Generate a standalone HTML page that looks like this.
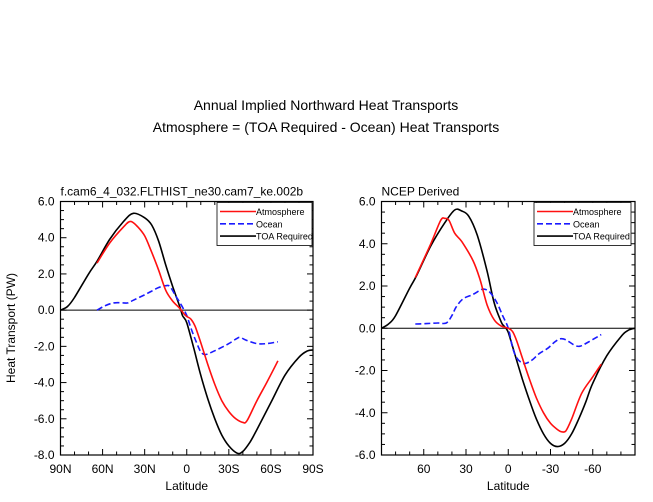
<!DOCTYPE html>
<html><head><meta charset="utf-8"><style>
body{margin:0;background:#fff;}
svg{display:block;font-family:"Liberation Sans",Arial,sans-serif;}
</style></head><body>
<svg id="c" width="653" height="502">
<text x="326" y="110" font-size="14" text-anchor="middle">Annual Implied Northward Heat Transports</text>
<text x="326" y="132" font-size="14" text-anchor="middle">Atmosphere = (TOA Required - Ocean) Heat Transports</text>
</svg>
<script>
// Left panel data (latitude, PW)
const L_toaLat=[90,85,80,70,64,55,45,38,30,25,20,15,10,5,3,0,-5,-10,-15,-20,-25,-30,-36,-40,-45,-50,-60,-70,-80,-86,-90];
const L_toaVal=[0,0.2,0.7,2.0,2.7,3.9,4.9,5.35,5.1,4.7,3.8,2.5,1.3,0.2,-0.3,-0.7,-2.1,-3.6,-4.9,-6.0,-6.9,-7.5,-7.9,-7.8,-7.3,-6.6,-5.1,-3.6,-2.6,-2.25,-2.2];
const L_atmLat=[64,55,45,40,35,30,25,20,15,10,5,2,0,-3,-6,-10,-15,-20,-25,-30,-35,-40,-43,-50,-57,-65];
const L_atmVal=[2.6,3.7,4.6,4.9,4.6,4.1,3.2,2.2,1.1,0.5,0.1,-0.2,-0.35,-0.5,-0.9,-1.8,-3.0,-4.1,-5.0,-5.6,-6.0,-6.2,-6.1,-5.0,-4.0,-2.8];
const L_ocnLat=[64,58,52,45,42,38,30,25,20,15,12,8,4,0,-3,-7,-10,-13,-17,-25,-30,-35,-38,-42,-50,-57,-65];
const L_ocnVal=[0,0.25,0.4,0.4,0.4,0.55,0.85,1.05,1.25,1.35,1.3,0.8,0.3,-0.3,-1.0,-1.8,-2.3,-2.45,-2.35,-2.05,-1.85,-1.6,-1.5,-1.65,-1.85,-1.85,-1.75];
// Right panel data
const R_toaLat=[90,85,80,70,65,55,45,38,33,28,22,15,10,5,3,0,-5,-10,-15,-20,-25,-30,-35,-40,-45,-50,-55,-60,-70,-80,-85,-90];
const R_toaVal=[0,0.2,0.6,1.9,2.5,3.9,5.0,5.6,5.55,5.3,4.4,2.7,1.2,0.3,0.1,-0.2,-1.3,-2.4,-3.4,-4.3,-5.0,-5.45,-5.6,-5.45,-5.0,-4.3,-3.5,-2.6,-1.3,-0.4,-0.1,0];
const R_atmLat=[66,55,48,45,42,38,33,25,20,15,10,5,0,-3,-6,-10,-15,-20,-25,-30,-35,-38,-41,-45,-52,-60,-66];
const R_atmVal=[2.4,4.0,5.1,5.2,5.1,4.5,4.1,3.2,2.3,1.1,0.4,0.1,0,-0.15,-0.6,-1.4,-2.4,-3.3,-4.0,-4.5,-4.8,-4.9,-4.85,-4.3,-3.1,-2.3,-1.7];
const R_ocnLat=[66,58,50,44,40,37,32,25,20,17,13,8,4,0,-3,-6,-10,-13,-17,-22,-28,-33,-37,-41,-47,-51,-57,-66];
const R_ocnVal=[0.2,0.22,0.25,0.25,0.6,1.0,1.4,1.6,1.8,1.85,1.7,1.2,0.6,0,-0.9,-1.4,-1.65,-1.65,-1.5,-1.2,-0.95,-0.65,-0.5,-0.55,-0.8,-0.85,-0.65,-0.3];
const L_xTicks=[90,60,30,0,-30,-60,-90];
const L_xLabels=["90N","60N","30N","0","30S","60S","90S"];
const L_yTicks=[6,4,2,0,-2,-4,-6,-8];
const R_xTicks=[60,30,0,-30,-60];
const R_xLabels=["60","30","0","-30","-60"];
const R_yTicks=[6,4,2,0,-2,-4,-6];

const NS="http://www.w3.org/2000/svg";
const svg=document.getElementById('c');
function mk(t,a,p){const e=document.createElementNS(NS,t);for(const k in a)e.setAttribute(k,a[k]);(p||svg).appendChild(e);return e;}
function smooth(pts){
  let d='M'+pts[0][0].toFixed(1)+' '+pts[0][1].toFixed(1);
  for(let i=0;i<pts.length-1;i++){
    const p0=pts[Math.max(0,i-1)],p1=pts[i],p2=pts[i+1],p3=pts[Math.min(pts.length-1,i+2)];
    const c1=[p1[0]+(p2[0]-p0[0])/6,p1[1]+(p2[1]-p0[1])/6];
    const c2=[p2[0]-(p3[0]-p1[0])/6,p2[1]-(p3[1]-p1[1])/6];
    d+=' C'+c1[0].toFixed(1)+' '+c1[1].toFixed(1)+' '+c2[0].toFixed(1)+' '+c2[1].toFixed(1)+' '+p2[0].toFixed(1)+' '+p2[1].toFixed(1);
  }
  return d;
}

function panel(o){
  const g=mk('g',{});
  
  
  const X=lat=>o.x0+(90-lat)/180*(o.x1-o.x0);
  const Y=v=>o.y0+(o.ymax-v)/(o.ymax-o.ymin)*(o.y1-o.y0);
  const z=mk('line',{x1:o.x0,x2:o.x1,y1:Y(0),y2:Y(0),stroke:'#000','stroke-width':1},g);
  
  function series(lat,val,color,dash,name,w){
    const d=smooth(lat.map((l,i)=>[X(l),Y(val[i])]));
    const p=mk('path',{d:d,fill:'none',stroke:color,'stroke-width':w,'stroke-linejoin':'round'},g);
    if(dash)p.setAttribute('stroke-dasharray',dash);
    
    
  }
  series(o.toaLat,o.toaVal,'#000',null,'toa-required-line',1.6);
  series(o.ocnLat,o.ocnVal,'#1a1aff','6 3','ocean-line',1.6);
  series(o.atmLat,o.atmVal,'#ff1010',null,'atmosphere-line',1.6);
  const fr=mk('rect',{x:o.x0,y:o.y0,width:o.x1-o.x0,height:o.y1-o.y0,fill:'none',stroke:'#000','stroke-width':1.2},g);
  
  for(let lat=90;lat>=-90;lat-=10){
    const x=X(lat);const maj=o.xTicks.includes(lat);const len=maj?6:3.5;
    mk('line',{x1:x,x2:x,y1:o.y1,y2:o.y1-len,stroke:'#000'},g);
    mk('line',{x1:x,x2:x,y1:o.y0,y2:o.y0+len,stroke:'#000'},g);
  }
  o.xTicks.forEach((t,i)=>{
    const tx=mk('text',{x:X(t),y:o.y1+18,'font-size':12,'text-anchor':'middle'},g);
    tx.textContent=o.xLabels[i];
    
  });
  for(let v=o.ymax;v>=o.ymin-0.001;v-=0.5){
    const y=Y(v);const maj=Math.abs(v-Math.round(v/2)*2)<0.01;const len=maj?6:3.5;
    mk('line',{x1:o.x0,x2:o.x0+len,y1:y,y2:y,stroke:'#000'},g);
    mk('line',{x1:o.x1,x2:o.x1-len,y1:y,y2:y,stroke:'#000'},g);
  }
  o.yTicks.forEach(t=>{
    const tx=mk('text',{x:o.x0-6,y:Y(t)+4,'font-size':12,'text-anchor':'end'},g);
    tx.textContent=t.toFixed(1);
    
  });
  const xt=mk('text',{x:(o.x0+o.x1)/2,y:o.y1+35,'font-size':12,'text-anchor':'middle'},g);
  xt.textContent='Latitude';
  
  const st=mk('text',{x:o.x0,y:o.y0-6,'font-size':12},g);
  st.textContent=o.sub;
  
  const lg=mk('g',{},g);
  
  mk('rect',{x:o.lx,y:o.y0+1,width:o.lw,height:43,fill:'#fff',stroke:'#000','stroke-width':0.8},lg);
  [['Atmosphere','#ff1010',null],['Ocean','#1a1aff','6 3'],['TOA Required','#000',null]].forEach((e,i)=>{
    const y=o.y0+10+i*12.3;
    const li=mk('line',{x1:o.lx+3,x2:o.lx+39,y1:y,y2:y,stroke:e[1],'stroke-width':1.6},lg);
    if(e[2])li.setAttribute('stroke-dasharray',e[2]);
    const t=mk('text',{x:o.lx+39,y:y+3.5,'font-size':9},lg);
    t.textContent=e[0];
    
  });
}

panel({name:'left-panel',x0:60.5,x1:313,y0:201.5,y1:455,ymax:6,ymin:-8,
  toaLat:L_toaLat,toaVal:L_toaVal,atmLat:L_atmLat,atmVal:L_atmVal,ocnLat:L_ocnLat,ocnVal:L_ocnVal,
  xTicks:L_xTicks,xLabels:L_xLabels,yTicks:L_yTicks,sub:'f.cam6_4_032.FLTHIST_ne30.cam7_ke.002b',lx:217,lw:95});
panel({name:'right-panel',x0:381.5,x1:635,y0:201.5,y1:455,ymax:6,ymin:-6,
  toaLat:R_toaLat,toaVal:R_toaVal,atmLat:R_atmLat,atmVal:R_atmVal,ocnLat:R_ocnLat,ocnVal:R_ocnVal,
  xTicks:R_xTicks,xLabels:R_xLabels,yTicks:R_yTicks,sub:'NCEP Derived',lx:534,lw:97});

const yt=mk('text',{x:0,y:0,'font-size':12,'text-anchor':'middle',transform:'translate(15,328) rotate(-90)'});
yt.textContent='Heat Transport (PW)';


</script>
</body></html>
